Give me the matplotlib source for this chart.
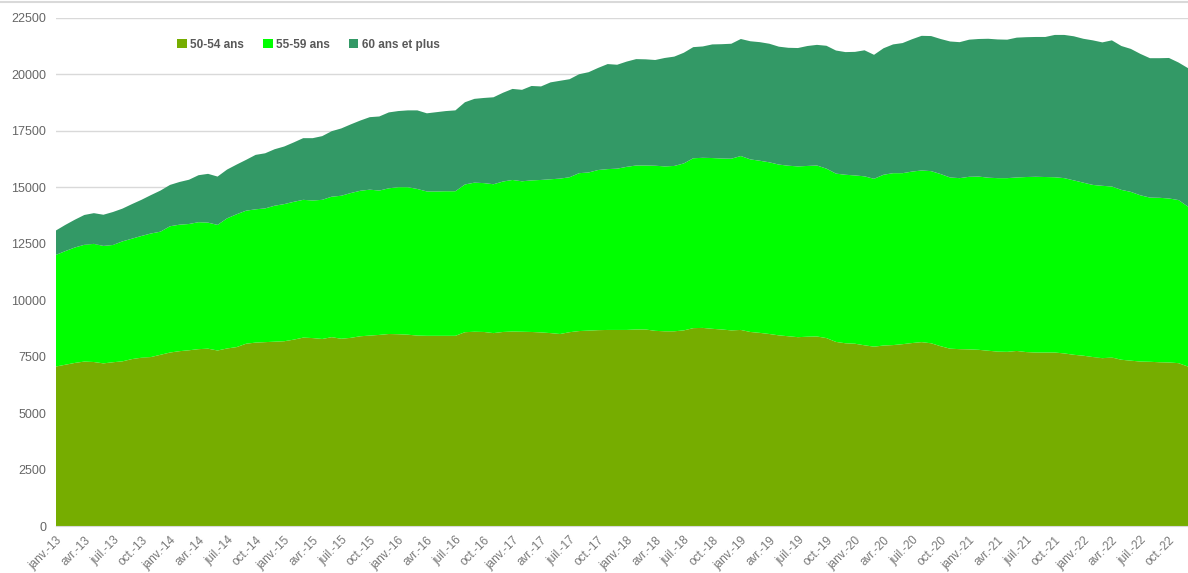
import matplotlib.pyplot as plt
from matplotlib.lines import Line2D

plt.rcParams['font.family'] = ['Liberation Sans', 'DejaVu Sans']

# monthly values, janv. 2013 -> déc. 2022
months_fr = ['janv.', 'févr.', 'mars', 'avr.', 'mai', 'juin',
             'juil.', 'août', 'sept.', 'oct.', 'nov.', 'déc.']
years = list(range(13, 23))
labels = [f'{m}-{y}' for y in years for m in months_fr]

ans_50_54 = [
    7060, 7140, 7220, 7280, 7260, 7200, 7250, 7290, 7390, 7450, 7480, 7580,
    7680, 7740, 7780, 7830, 7850, 7770, 7860, 7920, 8070, 8120, 8140, 8160,
    8180, 8250, 8340, 8320, 8280, 8360, 8290, 8330, 8400, 8430, 8460, 8500,
    8490, 8470, 8430, 8420, 8420, 8420, 8420, 8580, 8600, 8590, 8540, 8590,
    8610, 8600, 8590, 8570, 8540, 8500, 8580, 8630, 8650, 8670, 8680, 8680,
    8680, 8700, 8700, 8640, 8620, 8620, 8660, 8760, 8770, 8730, 8700, 8660,
    8680, 8590, 8550, 8500, 8440, 8400, 8360, 8380, 8390, 8320, 8150, 8090,
    8070, 8000, 7940, 7990, 8010, 8050, 8100, 8140, 8090, 7960, 7850, 7830,
    7820, 7800, 7760, 7720, 7710, 7750, 7700, 7680, 7680, 7680, 7640, 7580,
    7540, 7480, 7430, 7460, 7360, 7320, 7280, 7270, 7250, 7240, 7210, 7060,
]
ans_55_59 = [
    4940, 5030, 5110, 5170, 5230, 5200, 5190, 5310, 5330, 5390, 5470, 5450,
    5590, 5600, 5590, 5620, 5580, 5560, 5760, 5880, 5890, 5900, 5920, 6020,
    6070, 6100, 6100, 6090, 6160, 6220, 6330, 6410, 6440, 6460, 6390, 6450,
    6510, 6530, 6490, 6390, 6390, 6400, 6400, 6540, 6600, 6590, 6590, 6660,
    6710, 6660, 6710, 6750, 6810, 6880, 6860, 6990, 7000, 7090, 7120, 7140,
    7220, 7260, 7260, 7310, 7300, 7320, 7390, 7520, 7530, 7560, 7570, 7600,
    7700, 7640, 7620, 7600, 7560, 7550, 7560, 7560, 7570, 7500, 7450, 7460,
    7450, 7480, 7430, 7560, 7610, 7570, 7590, 7600, 7620, 7620, 7580, 7570,
    7640, 7670, 7660, 7680, 7690, 7680, 7750, 7780, 7770, 7760, 7760, 7720,
    7660, 7620, 7630, 7570, 7520, 7470, 7360, 7270, 7280, 7260, 7220, 7080,
]
ans_60_plus = [
    1080, 1160, 1230, 1320, 1360, 1380, 1460, 1450, 1530, 1600, 1700, 1820,
    1830, 1890, 1960, 2080, 2160, 2140, 2160, 2200, 2250, 2410, 2440, 2500,
    2550, 2630, 2730, 2760, 2820, 2900, 2980, 3040, 3110, 3210, 3280, 3360,
    3370, 3400, 3480, 3460, 3510, 3550, 3580, 3640, 3710, 3770, 3850, 3930,
    4030, 4050, 4180, 4140, 4290, 4330, 4340, 4380, 4440, 4520, 4650, 4600,
    4660, 4710, 4700, 4680, 4800, 4840, 4900, 4920, 4930, 5030, 5060, 5090,
    5180, 5230, 5250, 5250, 5220, 5220, 5240, 5310, 5340, 5440, 5450, 5430,
    5470, 5580, 5490, 5600, 5700, 5760, 5860, 5960, 5980, 5980, 6020, 6020,
    6070, 6090, 6150, 6140, 6130, 6190, 6190, 6190, 6200, 6300, 6340, 6380,
    6370, 6400, 6350, 6470, 6370, 6330, 6260, 6170, 6180, 6220, 6090, 6130,
]
series_names = ['50-54 ans', '55-59 ans', '60 ans et plus']
colors = ['#76AD00', '#00FF00', '#339966']

x = list(range(len(labels)))

fig = plt.figure(figsize=(11.88, 5.73), dpi=100)
ax = fig.add_axes([0.047, 0.082, 0.953, 0.887])

ax.stackplot(x, ans_50_54, ans_55_59, ans_60_plus,
             labels=series_names, colors=colors, zorder=2)

ax.set_xlim(0, len(x) - 1)
ax.set_ylim(0, 22500)
ax.set_yticks(range(0, 22501, 2500))
ax.grid(axis='y', color='#D9D9D9', linewidth=1, zorder=0)
ax.set_axisbelow(True)

ax.set_xticks(x[::3])
ax.set_xticklabels(labels[::3], rotation=45, ha='right',
                   rotation_mode='anchor')
ax.tick_params(axis='y', length=0, labelsize=9, colors='#666666', pad=7)
ax.tick_params(axis='x', length=0, labelsize=8.5, colors='#777777', pad=6)

for s in ['top', 'left', 'right']:
    ax.spines[s].set_visible(False)
ax.spines['bottom'].set_color('#D9D9D9')

# thin frame line along the top of the chart area
fig.add_artist(Line2D([0, 1], [0.996, 0.996], color='#D9D9D9', linewidth=1.5,
                      transform=fig.transFigure))

leg = ax.legend(loc='center left', bbox_to_anchor=(0.098, 0.947), ncol=3,
                frameon=False, fontsize=8.5, handlelength=0.8,
                handleheight=0.8, handletextpad=0.3, columnspacing=1.6)
for t in leg.get_texts():
    t.set_color('#595959')
    t.set_fontweight('bold')

fig.savefig('out.png', dpi=100)
